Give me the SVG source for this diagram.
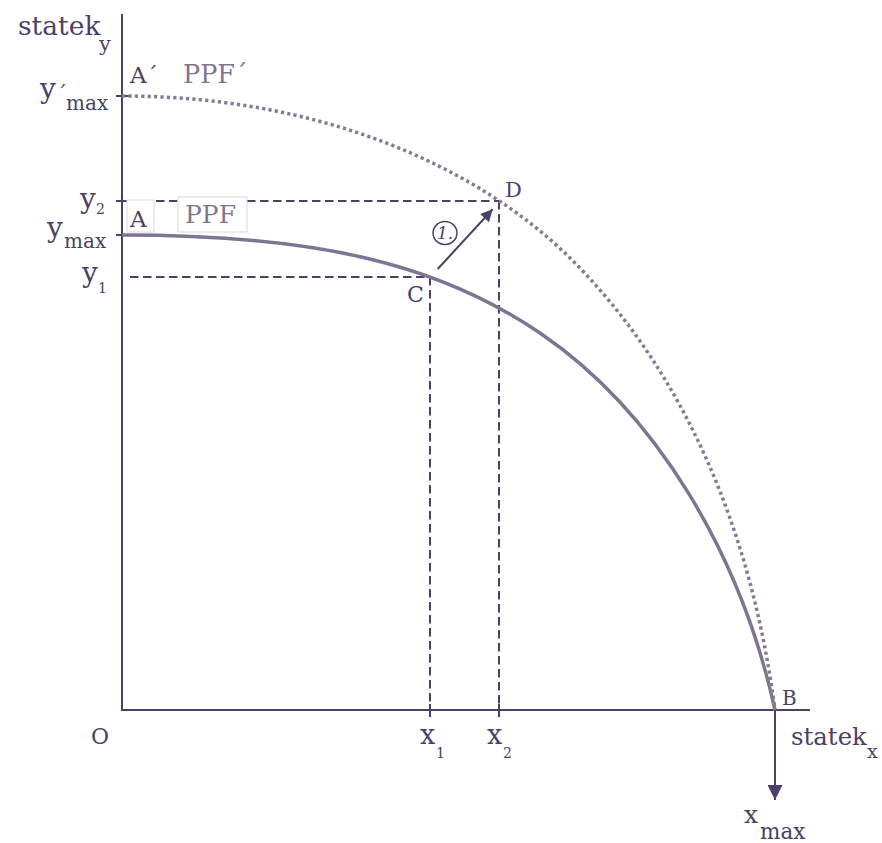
<svg xmlns="http://www.w3.org/2000/svg" width="882" height="843" viewBox="0 0 882 843">
<style>
text{font-family:"DejaVu Serif","Liberation Serif",serif;fill:#4b4168}
.lt{fill:#7f7592}
.ax{stroke:#4b4168;stroke-width:2;fill:none}
.dash{stroke:#4b4168;stroke-width:2;fill:none;stroke-dasharray:8.5 4.5}
.ppf{stroke:#7f7592;stroke-width:3.5;fill:none}
.ppf2{stroke:#857b98;stroke-width:3.5;fill:none;stroke-dasharray:3.2 3.2}
.box{fill:#fff;stroke:#d9d9d9;stroke-width:1}
</style>
<defs>
<marker id="ahBig" viewBox="0 0 10 10" refX="10" refY="5" markerUnits="userSpaceOnUse" markerWidth="18" markerHeight="15" orient="auto"><path d="M0,0 L10,5 L0,10 z" fill="#4b4168"/></marker>
<marker id="ahSmall" viewBox="0 0 10 10" refX="10" refY="5" markerUnits="userSpaceOnUse" markerWidth="15" markerHeight="12" orient="auto"><path d="M0,0 L10,5 L0,10 z" fill="#4b4168"/></marker>
</defs>
<rect width="882" height="843" fill="#fff"/>

<g id="guides">
<line class="dash" x1="130" y1="201" x2="499" y2="201"/>
<line class="dash" x1="130" y1="277" x2="430" y2="277"/>
<line class="dash" x1="430" y1="277" x2="430" y2="710"/>
<line class="dash" x1="499" y1="201" x2="499" y2="710"/>
<line class="ax" x1="430" y1="704" x2="430" y2="717"/>
<line class="ax" x1="499" y1="704" x2="499" y2="717"/>
</g>

<g id="axes">
<line class="ax" x1="122" y1="14" x2="122" y2="711"/>
<line class="ax" x1="121" y1="710" x2="810" y2="710"/>
<line class="ax" x1="116" y1="96" x2="129" y2="96"/>
<line class="ax" x1="116" y1="201" x2="130" y2="201"/>
<line class="ax" x1="116" y1="235" x2="129" y2="235"/>
</g>

<g id="label-boxes">
<rect class="box" x="127" y="200" width="27" height="32"/>
<rect class="box" x="178" y="197" width="69" height="35"/>
</g>

<g id="ppf">
<path class="ppf" d="M122,235 C322,235 440.8,265.6 540,333 C655.8,411.7 740.6,553.7 775,710"/>
</g>
<g id="ppf-prime">
<path class="ppf2" d="M122,96 C317,96 476.6,164.6 572,260 C685.1,373.1 751.6,531.8 775,710"/>
</g>

<g id="connectors">
<line class="ax" x1="775" y1="710" x2="775" y2="800" marker-end="url(#ahBig)"/>
<line class="ax" x1="437.7" y1="269" x2="492.7" y2="209.3" marker-end="url(#ahSmall)"/>
</g>

<g id="step-1">
<ellipse cx="445" cy="233" rx="12" ry="11.5" fill="none" stroke="#4b4168" stroke-width="1.5"/>
<text x="445" y="239" font-size="17" font-style="italic" text-anchor="middle">1.</text>
</g>

<g id="labels">
<text x="18" y="35" font-size="26.5">statek<tspan x="99" y="51" font-size="21">y</tspan></text>
<text x="130" y="83" font-size="23">A´</text>
<text class="lt" x="183" y="83" font-size="25.5">PPF´</text>
<text x="40" y="97.5" font-size="28">y<tspan x="57" y="101" font-size="20">´</tspan><tspan x="66" y="110" font-size="20">max</tspan></text>
<text x="80" y="208" font-size="28">y<tspan x="96" y="214" font-size="14">2</tspan></text>
<text x="47" y="237" font-size="28">y<tspan x="64" y="248" font-size="20">max</tspan></text>
<text x="82" y="282" font-size="28">y<tspan x="98" y="293" font-size="14">1</tspan></text>
<text x="130" y="227" font-size="23">A</text>
<text class="lt" x="185" y="223" font-size="25">PPF</text>
<text x="407" y="302" font-size="22">C</text>
<text x="505" y="197" font-size="21">D</text>
<text x="782" y="705" font-size="20">B</text>
<text x="91" y="744" font-size="22">O</text>
<text x="420" y="744" font-size="27">x<tspan x="436" y="758" font-size="14">1</tspan></text>
<text x="487" y="744" font-size="27">x<tspan x="503" y="758" font-size="14">2</tspan></text>
<text x="791" y="745" font-size="24.4">statek<tspan x="867" y="758" font-size="19">x</tspan></text>
<text x="744" y="823" font-size="25">x<tspan x="760" y="839" font-size="21.5">max</tspan></text>
</g>
</svg>
